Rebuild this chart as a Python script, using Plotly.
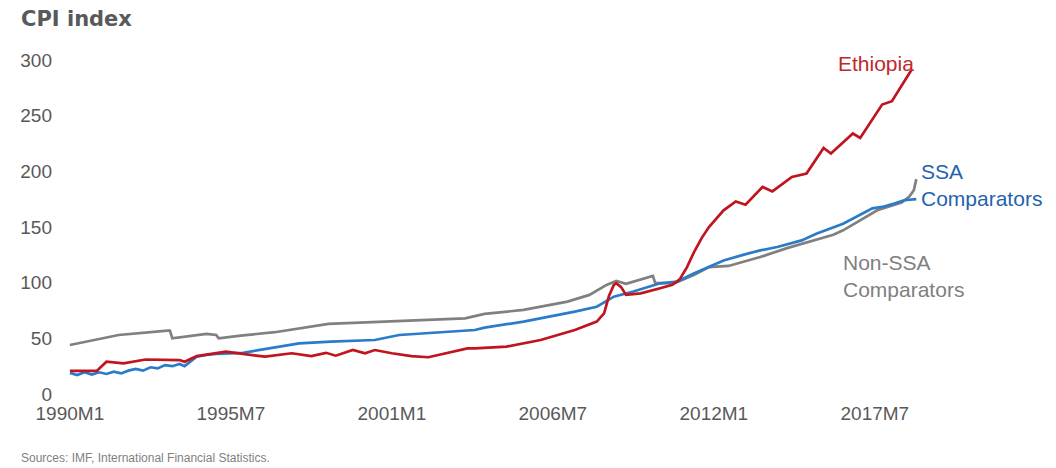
import plotly.graph_objects as go

# ---- data ----
tick_labels = ["1990M1", "1995M7", "2001M1", "2006M7", "2012M1", "2017M7"]

eth_months = ["1990M1", "1990M12", "1991M4", "1991M11", "1992M8", "1993M10", "1993M12", "1994M5",
              "1995M5", "1995M9", "1996M5", "1996M9", "1997M8", "1998M4", "1998M10", "1999M2",
              "1999M9", "2000M2", "2000M6", "2001M1", "2001M9", "2002M4", "2002M8", "2003M8",
              "2003M11", "2004M12", "2006M2", "2007M4", "2008M1", "2008M4", "2008M6", "2008M8",
              "2008M9", "2008M11", "2009M1", "2009M7", "2010M3", "2010M8", "2010M11", "2011M2",
              "2011M5", "2011M8", "2011M11", "2012M2", "2012M5", "2012M10", "2013M2", "2013M9",
              "2014M1", "2014M9", "2015M3", "2015M10", "2016M1", "2016M10", "2017M1", "2017M10",
              "2018M2", "2018M10"]
eth_values = [20.7, 20.7, 29, 27.6, 31, 30.5, 29, 34,
              38, 36.8, 34.4, 33.5, 36.6, 34, 37, 34.4,
              39.5, 36.6, 39.5, 36.6, 34, 33, 35, 41,
              41, 42.5, 48.5, 57.5, 65, 72.5, 88, 98,
              99.5, 96, 89, 90.4, 95, 98, 103, 114,
              128, 140, 150, 158, 165, 173, 170, 186,
              182, 195, 198, 221, 216, 234, 230, 260,
              263, 291]

ssa_months = ["1990M1", "1990M4", "1990M7", "1990M10", "1991M1", "1991M4", "1991M7", "1991M10",
              "1992M1", "1992M4", "1992M7", "1992M10", "1993M1", "1993M4", "1993M7", "1993M10",
              "1993M12", "1994M5", "1994M9", "1995M1", "1995M12", "1997M1", "1997M11", "1998M12",
              "2000M6", "2001M4", "2003M1", "2003M11", "2004M3", "2005M7", "2007M4", "2008M1",
              "2008M8", "2009M4", "2010M3", "2010M10", "2011M5", "2011M11", "2012M5", "2013M1",
              "2013M8", "2014M3", "2015M1", "2015M7", "2016M2", "2016M6", "2017M6", "2017M10",
              "2018M3", "2018M7", "2018M12"]
ssa_values = [19, 17, 19.5, 17.5, 19.5, 18, 20, 18.5,
              21, 22.5, 21, 24, 23, 26, 25, 27,
              25, 33.5, 35, 36, 37, 41.6, 45.5, 47,
              48.5, 53, 56, 57.5, 59.6, 65, 74, 78.4,
              87.4, 92, 99.4, 101, 108.4, 114, 120, 125,
              129, 132, 138, 144, 150, 153, 166.8, 168,
              171, 174, 175]

non_months = ["1990M1", "1991M9", "1993M5", "1993M6", "1993M7", "1994M3", "1994M9", "1995M1",
              "1995M2", "1995M11", "1997M1", "1998M11", "2000M6", "2002M5", "2003M7", "2004M3",
              "2005M7", "2007M1", "2007M10", "2008M5", "2008M9", "2009M1", "2009M7", "2009M12",
              "2010M1", "2010M9", "2011M5", "2011M11", "2012M7", "2013M8", "2014M7", "2015M1",
              "2015M4", "2016M2", "2016M6", "2016M12", "2017M8", "2018M6", "2018M9", "2018M11",
              "2018M12"]
non_values = [44, 53, 57, 57, 50, 52, 54, 53,
              50, 52.5, 55.5, 63, 64.5, 66.5, 68, 72,
              75.5, 83, 89, 98, 101.5, 99, 102.5, 106,
              99.5, 99.5, 107, 114, 115, 123, 131, 135,
              137, 143, 147, 155, 165, 172, 177, 183,
              193]


def month_index(label):
    y, m = label.split("M")
    return (int(y) - 1990) * 12 + int(m) - 1


# ---- geometry (page body has an 8px margin, so the figure is shrunk and shifted) ----
OFF = 8
W, H = 1056 - OFF, 468 - OFF
x_lo, x_hi = -2, 360
# plot area in reference-page pixels: left 58, right 948, top 60, bottom 394
m_left = 58 - OFF
m_top = 60 - OFF
m_right = 1056 - 948
m_bottom = 468 - 394
pw = W - m_left - m_right
ph = H - m_top - m_bottom


def px_x(px):
    """reference page x pixel -> paper coordinate"""
    return (px - OFF - m_left) / pw


def px_y(py):
    """reference page y pixel -> paper coordinate"""
    return (H - m_bottom - (py - OFF)) / ph


RED = "#C0141E"
BLUE = "#2A7BC8"
GRAY = "#808080"
FONT = "Arial, Liberation Sans, sans-serif"

fig = go.Figure()
fig.add_trace(go.Scatter(x=[month_index(s) for s in non_months], y=non_values, mode="lines",
                         line=dict(color=GRAY, width=2.7), name="Non-SSA Comparators",
                         hoverinfo="skip", cliponaxis=False))
fig.add_trace(go.Scatter(x=[month_index(s) for s in ssa_months], y=ssa_values, mode="lines",
                         line=dict(color=BLUE, width=2.7), name="SSA Comparators",
                         hoverinfo="skip", cliponaxis=False))
fig.add_trace(go.Scatter(x=[month_index(s) for s in eth_months], y=eth_values, mode="lines",
                         line=dict(color=RED, width=2.7), name="Ethiopia",
                         hoverinfo="skip", cliponaxis=False))

annots = [
    dict(text="<b>CPI index</b>", x=px_x(12), y=px_y(19), xanchor="left", yanchor="middle",
         font=dict(size=21, color="#595959", family="DejaVu Sans, Arial, sans-serif")),
    dict(text="Ethiopia", x=px_x(875), y=px_y(64), xanchor="center",
         yanchor="middle", font=dict(size=21, color="#C0282D", family=FONT)),
    dict(text="SSA<br>Comparators", x=px_x(919), y=px_y(185), xanchor="left",
         yanchor="middle", align="left", font=dict(size=21, color="#1F63AD", family=FONT)),
    dict(text="Non-SSA<br>Comparators", x=px_x(840), y=px_y(276), xanchor="left",
         yanchor="middle", align="left", font=dict(size=21, color="#808080", family=FONT)),
    dict(text="Sources: IMF, International Financial Statistics.", x=px_x(12),
         y=px_y(458), xanchor="left", yanchor="middle",
         font=dict(size=12, color="#7F7F7F", family=FONT)),
]
for a in annots:
    a.update(xref="paper", yref="paper", showarrow=False)
    fig.add_annotation(**a)

fig.update_layout(
    width=W, height=H,
    margin=dict(l=m_left, r=m_right, t=m_top, b=m_bottom, pad=0),
    paper_bgcolor="white", plot_bgcolor="white",
    showlegend=False,
    font=dict(family=FONT, color="#595959"),
    xaxis=dict(range=[x_lo, x_hi], showgrid=False, zeroline=False, showline=False,
               tickmode="array", tickvals=[month_index(t) for t in tick_labels],
               ticktext=tick_labels, ticks="", tickfont=dict(size=19, color="#595959"),
               ticklabelstandoff=6),
    yaxis=dict(range=[0, 300], showgrid=False, zeroline=False, showline=False,
               tickmode="array", tickvals=[0, 50, 100, 150, 200, 250, 300], ticks="",
               tickfont=dict(size=19, color="#595959"), ticklabelstandoff=12),
)

fig.write_html("out.html")
